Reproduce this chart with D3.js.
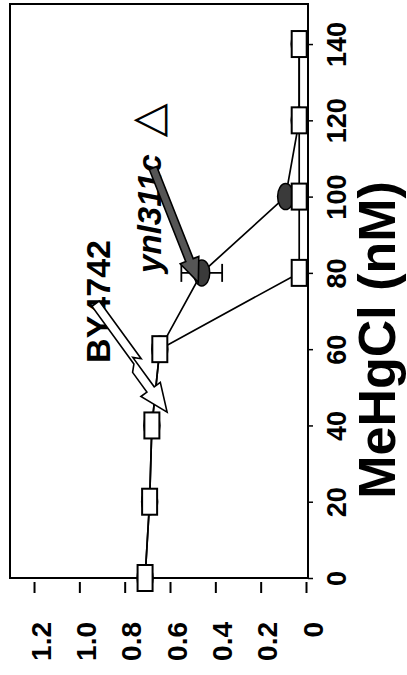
<!DOCTYPE html>
<html>
<head>
<meta charset="utf-8">
<script src="https://cdn.jsdelivr.net/npm/d3@7"></script>
<style>
  body { margin: 0; background: #fff; }
  svg { display: block; font-family: "Liberation Sans", Arial, sans-serif; }
</style>
</head>
<body>
<div id="chart"></div>
<script>
const conc = [0, 20, 40, 60, 80, 100, 120, 140];
const wildType = [0.71, 0.69, 0.68, 0.645, 0.03, 0.03, 0.03, 0.03];
const mutant = [0.71, 0.69, 0.68, 0.645, 0.46, 0.09, 0.03, 0.03];
const mutantErr = [0, 0, 0, 0, 0.09, 0, 0, 0];
const concTicks = [0, 20, 40, 60, 80, 100, 120, 140];
const valueTicks = [0, 0.2, 0.4, 0.6, 0.8, 1.0, 1.2];
const valueLabels = ["0", "0.2", "0.4", "0.6", "0.8", "1.0", "1.2"];
const wildName = "BY4742";
const mutantName = "ynl311c";
const axisTitle = "MeHgCl (nM)";

const width = 407, height = 675;

const svg = d3.select("#chart").append("svg")
    .attr("width", width)
    .attr("height", height);

// figure is turned on its side: concentration runs up the page, value runs leftwards
const cy = d3.scaleLinear().domain([0, 150.5]).range([578, 4]);
const vx = d3.scaleLinear().domain([0, 1.306]).range([306, 10]);

// frame
svg.append("rect")
    .attr("x", 10).attr("y", 4)
    .attr("width", 298).attr("height", 574)
    .attr("fill", "none")
    .attr("stroke", "#000")
    .attr("stroke-width", 2);

// concentration axis (right side)
const concAxis = svg.append("g")
    .attr("transform", "translate(308,0)")
    .call(d3.axisRight(cy).tickValues(concTicks).tickSize(5).tickSizeOuter(0));
concAxis.select(".domain").remove();
concAxis.selectAll("line").attr("stroke-width", 1.5);
concAxis.selectAll("text")
    .attr("x", 0).attr("y", 0).attr("dy", 0)
    .attr("text-anchor", "middle")
    .attr("transform", "translate(38,0) rotate(-90)")
    .attr("font-size", 27)
    .attr("font-weight", "bold")
    .attr("font-family", "Liberation Sans, Arial, sans-serif")
    .attr("fill", "#000");

// value axis (bottom)
const valAxis = svg.append("g")
    .attr("transform", "translate(0,582)")
    .call(d3.axisBottom(vx).tickValues(valueTicks)
        .tickFormat((d, i) => valueLabels[i])
        .tickSize(11).tickSizeOuter(0));
valAxis.select(".domain").remove();
valAxis.selectAll("line").attr("stroke-width", 2);
valAxis.selectAll("text")
    .attr("x", 0).attr("y", 0).attr("dy", 0)
    .attr("text-anchor", "end")
    .attr("transform", "translate(16,40) rotate(-90)")
    .attr("font-size", 28)
    .attr("font-weight", "bold")
    .attr("font-family", "Liberation Sans, Arial, sans-serif")
    .attr("fill", "#000");

// axis title
svg.append("text")
    .attr("transform", "translate(395,340) rotate(-90)")
    .attr("text-anchor", "middle")
    .attr("font-size", 52)
    .attr("font-weight", "bold")
    .text(axisTitle);

// lines
const line = vals => d3.line()
    .x((d, i) => vx(vals[i]))
    .y(d => cy(d))(conc);

svg.append("path")
    .attr("d", line(wildType))
    .attr("fill", "none").attr("stroke", "#000").attr("stroke-width", 1.7);
svg.append("path")
    .attr("d", line(mutant))
    .attr("fill", "none").attr("stroke", "#000").attr("stroke-width", 1.7);

// error bar
conc.forEach((c, i) => {
    if (!mutantErr[i]) return;
    const y = cy(c);
    const a = vx(mutant[i] + mutantErr[i]), b = vx(mutant[i] - mutantErr[i]);
    const g = svg.append("g").attr("stroke", "#000").attr("stroke-width", 1.8);
    g.append("line").attr("x1", a).attr("x2", b).attr("y1", y).attr("y2", y);
    g.append("line").attr("x1", a).attr("x2", a).attr("y1", y - 9).attr("y2", y + 9);
    g.append("line").attr("x1", b).attr("x2", b).attr("y1", y - 9).attr("y2", y + 9);
});

// mutant markers (dark ellipses)
svg.selectAll(".mut")
    .data(conc)
    .enter().append("ellipse")
    .attr("class", "mut")
    .attr("cx", (d, i) => vx(mutant[i]))
    .attr("cy", d => cy(d))
    .attr("rx", 8).attr("ry", 13)
    .attr("fill", "#3a3a3a")
    .attr("stroke", "#000")
    .attr("stroke-width", 1.5);

// wild type markers (open boxes)
svg.selectAll(".wt")
    .data(conc)
    .enter().append("rect")
    .attr("class", "wt")
    .attr("x", (d, i) => vx(wildType[i]) - 7.5)
    .attr("y", d => cy(d) - 13)
    .attr("width", 15).attr("height", 26)
    .attr("fill", "#fff")
    .attr("stroke", "#000")
    .attr("stroke-width", 2);

// arrow outline built along the segment (x0,y0) -> (x1,y1)
function arrowPath(x0, y0, x1, y1, shape) {
    const dx = x1 - x0, dy = y1 - y0, L = Math.hypot(dx, dy);
    const ux = dx / L, uy = dy / L, nx = -uy, ny = ux;
    const pts = shape(L).map(([t, s]) => [x0 + ux * t + nx * s, y0 + uy * t + ny * s]);
    return "M" + pts.map(p => p[0].toFixed(1) + "," + p[1].toFixed(1)).join("L") + "Z";
}

const boltShape = L => {
    const k = L * 0.55, hl = 28, w = 4.5, hw = 12, off = 6;
    return [
        [0, -off - w], [k, -off - w], [k - off, -w], [L - hl, -w], [L - hl, -hw],
        [L, 0],
        [L - hl, hw], [L - hl, w], [k + off, w], [k, w - off], [0, w - off]
    ];
};
const blockShape = L => {
    const hl = 24, w = 4, hw = 10;
    return [[0, -w], [L - hl, -w], [L - hl, -hw], [L, 0], [L - hl, hw], [L - hl, w], [0, w]];
};

// labels
svg.append("text")
    .attr("transform", `translate(${vx(0.865)},${cy(56.4)}) rotate(-90)`)
    .attr("font-size", 34)
    .attr("font-weight", "bold")
    .text(wildName);

svg.append("path")
    .attr("d", arrowPath(vx(0.95), cy(71), vx(0.613), cy(43.5), boltShape))
    .attr("fill", "#fff").attr("stroke", "#000").attr("stroke-width", 1.6)
    .attr("stroke-linejoin", "miter");

svg.append("text")
    .attr("transform", `translate(${vx(0.64)},${cy(80)}) rotate(-90)`)
    .attr("font-size", 33)
    .attr("font-weight", "bold")
    .attr("font-style", "italic")
    .text(mutantName);

svg.append("text")
    .attr("transform", `translate(${vx(0.635)},${cy(120)}) rotate(-90)`)
    .attr("text-anchor", "middle")
    .attr("font-size", 44)
    .attr("font-family", "DejaVu Sans, sans-serif")
    .text("\u25B3");

svg.append("path")
    .attr("d", arrowPath(vx(0.675), cy(107.5), vx(0.475), cy(77.5), blockShape))
    .attr("fill", "#555").attr("stroke", "#000").attr("stroke-width", 1.6);
</script>
</body>
</html>
